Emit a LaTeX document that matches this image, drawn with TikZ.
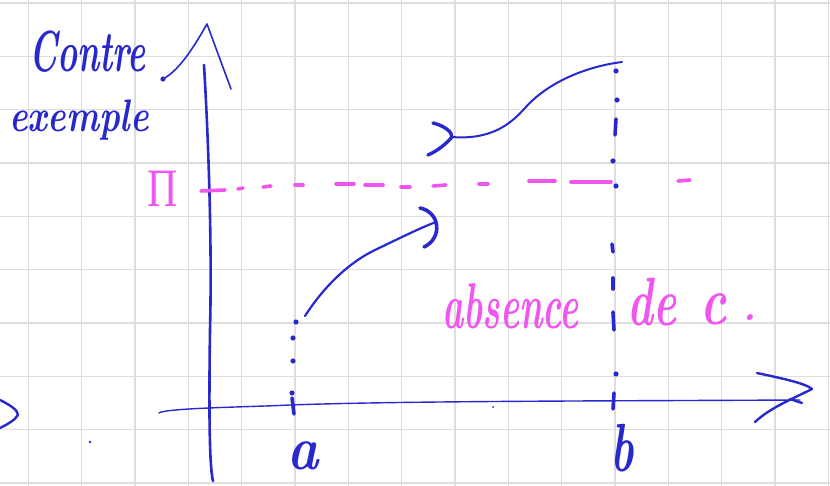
\documentclass[tikz,border=0pt]{standalone}
\usepackage{fontspec}
\newfontfamily\greekhand{Liberation Serif}
\definecolor{penblue}{RGB}{40,40,205}
\definecolor{penpink}{RGB}{240,85,240}
\definecolor{gridgray}{RGB}{222,222,222}
\tikzset{
  gridline/.style={draw=gridgray, line width=1.3pt},
  bluestroke/.style={draw=penblue, line cap=round, line join=round},
  pinkdash/.style={draw=penpink, line width=3.6pt, line cap=round},
  bluedash/.style={draw=penblue, line width=3.6pt, line cap=round},
  bluedot/.style={fill=penblue},
  bluetext/.style={text=penblue, inner sep=0pt, transform shape, font=\bfseries\itshape},
  pinktext/.style={text=penpink, inner sep=0pt, transform shape, font=\bfseries\itshape},
}
\begin{document}
\begin{tikzpicture}[x=1pt,y=-1pt]
\useasboundingbox[fill=white] (0,0) rectangle (830,486);
% grid
\foreach \i in {0,...,15} \draw[gridline] ({28.3+53.33*\i},0) -- ++(0,486);
\foreach \j in {0,...,9} \draw[gridline] (0,{3+53.33*\j}) -- ++(830,0);

% y axis
\draw[bluestroke, line width=2.6pt] (204,65) .. controls (209,150) and (212,250) .. (210,330) .. controls (209,400) and (209,465) .. (213,481);
\draw[bluestroke, line width=1.6pt] (163,79) .. controls (180,70) and (195,45) .. (207,24) -- (231,89);
\fill[bluedot] (163,79) circle (2.6);

% x axis
\draw[bluestroke, line width=1.4pt] (159,413) .. controls (165,408) and (250,407) .. (290,405) .. controls (400,401) and (600,401) .. (800,400);
\draw[bluestroke, line width=2.4pt] (757,373) .. controls (780,378) and (805,383) .. (812,389) .. controls (790,400) and (770,408) .. (755,422);
\draw[bluestroke, line width=2.4pt] (790,399) -- (802,403);

% left fragment and stray dots
\draw[bluestroke, line width=2.4pt] (0,400) .. controls (10,405) and (18,410) .. (18,415) .. controls (15,420) and (8,424) .. (0,428);
\fill[bluedot] (90,442) circle (1.3);
\fill[bluedot] (493,407) circle (1);

% a marks
\foreach \p in {(296,322),(293,338),(293,361),(292,393)} \fill[bluedot] \p circle (2.6);
\draw[bluedash] (292,398) -- (294,414);

% lower curve
\draw[bluestroke, line width=2.2pt] (305,316) .. controls (325,285) and (350,262) .. (375,250) .. controls (400,238) and (420,228) .. (436,222);
\draw[bluestroke, line width=3.6pt] (420,208) .. controls (440,212) and (443,238) .. (424,247);

% upper curve
\draw[bluestroke, line width=3.4pt] (433,123) .. controls (445,126) and (452,132) .. (452,137) .. controls (445,145) and (437,151) .. (428,155);
\draw[bluestroke, line width=2pt] (452,137) .. controls (490,140) and (510,125) .. (525,108) .. controls (550,80) and (590,66) .. (622,62);

% b marks
\foreach \p in {(616,71),(617,100),(613,161),(616,186),(616,374)} \fill[bluedot] \p circle (2.6);
\draw[bluedash] (616,119) -- (615,135);
\draw[bluedash] (612,244) -- (613,252);
\draw[bluedash] (613,278) -- (613,289);
\draw[bluedash] (613,312) -- (614,330);
\draw[bluedash] (614,393) -- (613,409);

% pink dashed level
\draw[pinkdash] (201,191) -- (225,190);
\draw[pinkdash] (238,189) -- (243,188);
\draw[pinkdash] (263,187) -- (271,186);
\draw[pinkdash] (295,185) -- (303,185);
\draw[pinkdash] (336,184) -- (354,184);
\draw[pinkdash] (365,185) -- (383,185);
\draw[pinkdash] (401,187) -- (410,187);
\draw[pinkdash] (433,186) -- (446,185);
\draw[pinkdash] (479,184) -- (488,184);
\draw[pinkdash] (529,181) -- (555,181);
\draw[pinkdash] (571,182) -- (611,182);
\draw[pinkdash] (678,181) -- (690,180);

% texts
\node[bluetext, anchor=base west, yscale=1.7] (contre) at (29,72) {\fontsize{34}{40}\selectfont Contre};
\node[bluetext, anchor=base west, yscale=1.3] (exemple) at (9,132) {\fontsize{35}{42}\selectfont exemple};
\node[pinktext, anchor=base, xscale=1.4, yscale=1.8] (level) at (163,207) {\fontsize{30}{32}\selectfont\greekhand\mdseries\upshape Π};
\node[bluetext, anchor=base, xscale=1.2, yscale=1.4] (alabel) at (303,469) {\fontsize{44}{50}\selectfont a};
\node[bluetext, anchor=base, yscale=1.55] (blabel) at (622,471) {\fontsize{44}{50}\selectfont b};
\node[pinktext, anchor=base west, yscale=1.8] (absence) at (442,328) {\fontsize{36}{42}\selectfont absence};
\node[pinktext, anchor=base west, yscale=1.8, xscale=1.15] (de) at (627,326) {\fontsize{38}{42}\selectfont de};
\node[pinktext, anchor=base west, yscale=1.8, xscale=1.3] (cletter) at (700,325) {\fontsize{38}{42}\selectfont c};
\node[pinktext, anchor=base west] (period) at (742,320) {\fontsize{40}{42}\selectfont .};
\end{tikzpicture}
\end{document}
